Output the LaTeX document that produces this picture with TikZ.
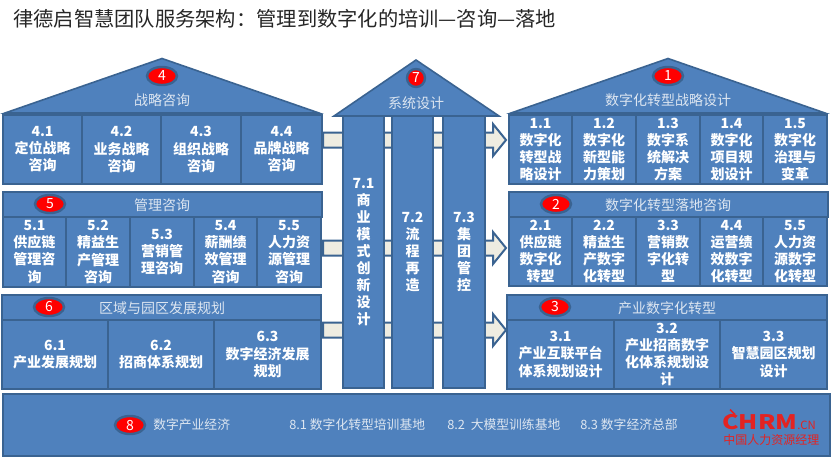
\documentclass[tikz,border=0pt]{standalone}
\usepackage{fontspec}
\setmainfont{Noto Sans CJK SC}
\usetikzlibrary{shapes.geometric}
\definecolor{blockfill}{HTML}{4F81BD}
\definecolor{blockline}{HTML}{3A6391}
\definecolor{arrowfill}{HTML}{EEECE1}
\definecolor{softwhite}{HTML}{DDE6F1}
\definecolor{logored}{HTML}{E32322}
\lineskiplimit=-20pt
\tikzset{
  x=0.75pt,y=-0.75pt,
  blockbase/.style={draw=blockline,fill=blockfill,line width=1.2pt,inner sep=0pt,align=center,text=white},
  cellbox/.style={blockbase,font=\fontsize{10.5}{12.8}\selectfont\bfseries},
  headbox/.style={blockbase},
  roof/.style={draw=blockline,fill=blockfill,line width=1.2pt,line join=miter},
  headtext/.style={text=softwhite,font=\fontsize{10.5}{12.8}\selectfont,inner sep=0pt},
  stacktext/.style={text=softwhite,font=\fontsize{9.6}{12}\selectfont,inner sep=0pt,anchor=west},
  badge/.style={ellipse,draw=blockline,fill=red,line width=1.8pt,minimum width=22.5pt,minimum height=13.5pt,inner sep=0pt,text=white,font=\fontsize{10.5}{12}\selectfont},
  roundbadge/.style={circle,draw=blockline,fill=red,line width=1.8pt,minimum size=13.5pt,inner sep=0pt,text=white,font=\fontsize{10.5}{12}\selectfont},
  flow/.style={draw=blockline,fill=arrowfill,line width=1.5pt,line join=miter},
}
\newcommand{\cellat}[6]{\node[cellbox,minimum width={(#4-#2)*0.75pt},minimum height={(#5-#3)*0.75pt}] (#1) at ({(#2+#4)/2},{(#3+#5)/2}) {#6};}
\newcommand{\headat}[5]{\node[headbox,minimum width={(#4-#2)*0.75pt},minimum height={(#5-#3)*0.75pt}] (#1) at ({(#2+#4)/2},{(#3+#5)/2}) {};}
\newcommand{\flowarrow}[1]{\draw[flow] (323,#1-7.5) -- (493,#1-7.5) -- (493,#1-16) -- (506,#1) -- (493,#1+16) -- (493,#1+7.5) -- (323,#1+7.5) -- cycle;}
\begin{document}
\begin{tikzpicture}
\lineskiplimit=-20pt
\useasboundingbox (0,0) rectangle (831,458);
\node[anchor=west,inner sep=0pt,text=black!85,font=\fontsize{15.2}{16}\selectfont] (title) at (13,19) {律德启智慧团队服务架构：管理到数字化的培训—咨询—落地};

% block arrows behind the columns
\flowarrow{140}
\flowarrow{248}
\flowarrow{330}

% house 4
\draw[roof] (5,113) -- (162,58.5) -- (319,113) -- cycle;
\node[badge] (b4) at (162,76) {4};
\node[headtext] (t4) at (162,100) {战略咨询};
\cellat{c41}{3}{115}{82}{184}{4.1\\定位战略\\咨询}
\cellat{c42}{82}{115}{161}{184}{4.2\\业务战略\\咨询}
\cellat{c43}{161}{115}{241}{184}{4.3\\组织战略\\咨询}
\cellat{c44}{241}{115}{322}{184}{4.4\\品牌战略\\咨询}

% row 5
\headat{h5}{3}{192}{322}{217}
\node[badge] (b5) at (50,204) {5};
\node[headtext] (t5) at (162,205) {管理咨询};
\cellat{c51}{3}{217}{66}{287}{5.1\\供应链\\管理咨\\询}
\cellat{c52}{66}{217}{130}{287}{5.2\\精益生\\产管理\\咨询}
\cellat{c53}{130}{217}{194}{287}{5.3\\营销管\\理咨询}
\cellat{c54}{194}{217}{257}{287}{5.4\\薪酬绩\\效管理\\咨询}
\cellat{c55}{257}{217}{321}{287}{5.5\\人力资\\源管理\\咨询}

% row 6
\headat{h6}{2}{295}{321}{320}
\node[badge] (b6) at (49,307) {6};
\node[headtext] (t6) at (162,308) {区域与园区发展规划};
\cellat{c61}{2}{320}{108}{389}{6.1\\产业发展规划}
\cellat{c62}{108}{320}{214}{389}{6.2\\招商体系规划}
\cellat{c63}{214}{320}{321}{389}{6.3\\数字经济发展\\规划}

% house 7
\draw[roof] (334,116) -- (416,60) -- (499,116) -- cycle;
\node[roundbadge] (b7) at (416,78) {7};
\node[headtext] (t7) at (416,103) {系统设计};
\cellat{c71}{343}{116}{384}{388}{7.1\\商\\业\\模\\式\\创\\新\\设\\计}
\cellat{c72}{392}{116}{433}{388}{7.2\\流\\程\\再\\造}
\cellat{c73}{443}{116}{485}{388}{7.3\\集\\团\\管\\控}

% house 1
\draw[roof] (511,113) -- (668,58.5) -- (825,113) -- cycle;
\node[badge] (b1) at (668,76) {1};
\node[headtext] (t1) at (668,100) {数字化转型战略设计};
\cellat{c11}{509}{115}{572}{184}{1.1\\数字化\\转型战\\略设计}
\cellat{c12}{572}{115}{636}{184}{1.2\\数字化\\新型能\\力策划}
\cellat{c13}{636}{115}{700}{184}{1.3\\数字系\\统解决\\方案}
\cellat{c14}{700}{115}{763}{184}{1.4\\数字化\\项目规\\划设计}
\cellat{c15}{763}{115}{827}{184}{1.5\\数字化\\治理与\\变革}

% row 2
\headat{h2}{509}{192}{828}{217}
\node[badge] (b2) at (556,204) {2};
\node[headtext] (t2) at (668,205) {数字化转型落地咨询};
\cellat{c21}{509}{217}{572}{286}{2.1\\供应链\\数字化\\转型}
\cellat{c22}{572}{217}{636}{286}{2.2\\精益生\\产数字\\化转型}
\cellat{c23}{636}{217}{700}{286}{3.3\\营销数\\字化转\\型}
\cellat{c24}{700}{217}{763}{286}{4.4\\运营绩\\效数字\\化转型}
\cellat{c25}{763}{217}{827}{286}{5.5\\人力资\\源数字\\化转型}

% row 3
\headat{h3}{507}{295}{827}{320}
\node[badge] (b3) at (555,307) {3};
\node[headtext] (t3) at (667,308) {产业数字化转型};
\cellat{c31}{507}{320}{614}{389}{3.1\\产业互联平台\\体系规划设计}
\cellat{c32}{614}{320}{720}{389}{3.2\\产业招商数字\\化体系规划设\\计}
\cellat{c33}{720}{320}{827}{389}{3.3\\智慧园区规划\\设计}

% base
\headat{h8}{3}{394}{830}{456}
\node[badge] (b8) at (130,425) {8};
\node[stacktext] (t80) at (153,425) {数字产业经济};
\node[stacktext] (t81) at (289,425) {8.1 数字化转型培训基地};
\node[stacktext] (t82) at (447,425) {8.2\ \ 大模型训练基地};
\node[stacktext] (t83) at (580,425) {8.3 数字经济总部};

% logo
\node[anchor=west,inner sep=0pt,text=logored,font=\fontsize{15}{16}\selectfont\bfseries,xscale=1.24] (logo) at (722,422) {CHRM};
\draw[logored,line width=1.3pt] (730,409.5) -- (735,414.5);
\node[anchor=west,inner sep=0pt,text=logored,font=\fontsize{8.5}{10}\selectfont] (logocn) at (797,425.5) {.CN};
\node[anchor=west,inner sep=0pt,text=logored,font=\fontsize{9}{10}\selectfont] (logozh) at (723,440) {中国人力资源经理};
\end{tikzpicture}
\end{document}
